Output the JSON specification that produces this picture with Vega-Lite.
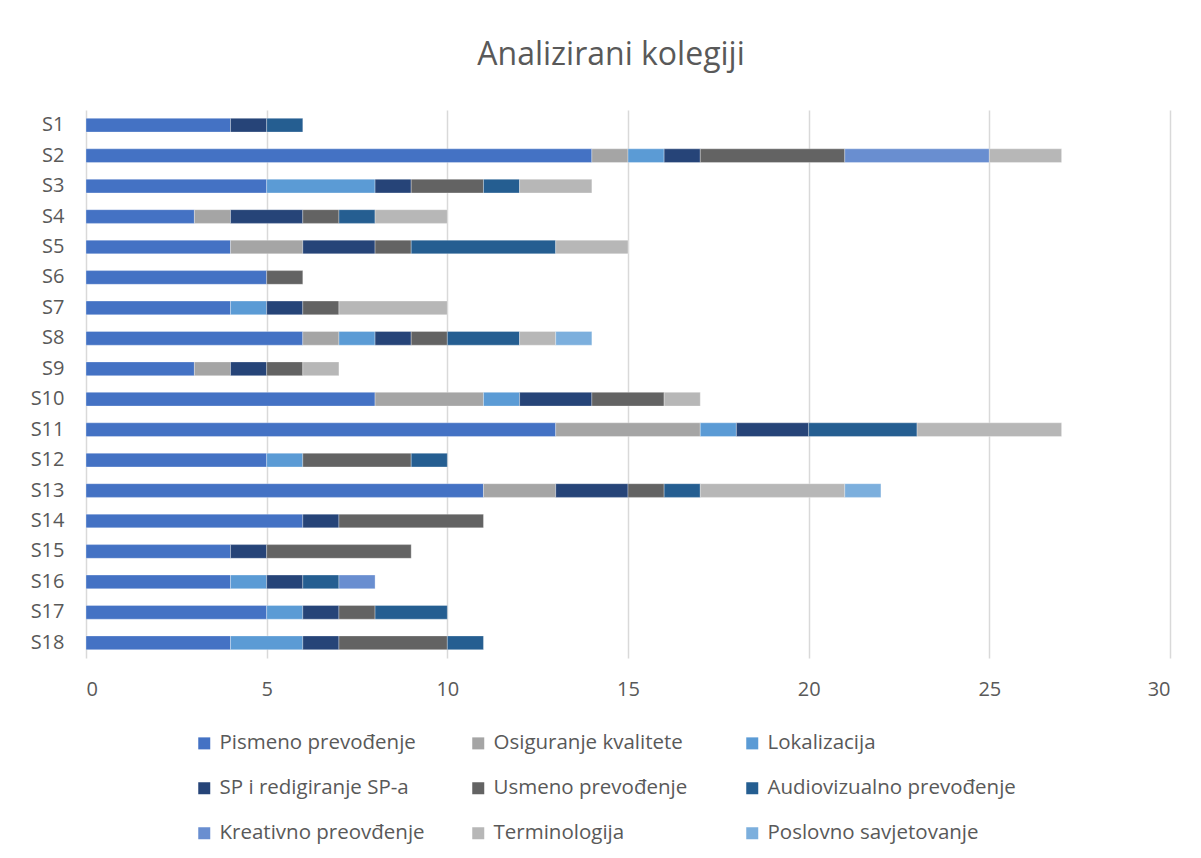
{
  "$schema": "https://vega.github.io/schema/vega-lite/v6.json",
  "autosize": "none",
  "width": 1084,
  "height": 548,
  "padding": {"left": 86, "top": 110, "right": 31, "bottom": 200},
  "background": "white",
  "title": {
    "text": "Analizirani kolegiji",
    "anchor": "middle",
    "frame": "group",
    "fontSize": 32,
    "font": "Open Sans",
    "fontWeight": "normal",
    "color": "#595959",
    "offset": 38,
    "dx": -17
  },
  "datasets": {
    "order": [
      {"cat": "Pismeno prevođenje", "o": 1},
      {"cat": "Osiguranje kvalitete", "o": 2},
      {"cat": "Lokalizacija", "o": 3},
      {"cat": "SP i redigiranje SP-a", "o": 4},
      {"cat": "Usmeno prevođenje", "o": 5},
      {"cat": "Audiovizualno prevođenje", "o": 6},
      {"cat": "Kreativno preovđenje", "o": 7},
      {"cat": "Terminologija", "o": 8},
      {"cat": "Poslovno savjetovanje", "o": 9}
    ]
  },
  "data": {
    "values": [
      {"k": "S1", "cat": "Pismeno prevođenje", "n": 4},
      {"k": "S1", "cat": "SP i redigiranje SP-a", "n": 1},
      {"k": "S1", "cat": "Audiovizualno prevođenje", "n": 1},
      {"k": "S2", "cat": "Pismeno prevođenje", "n": 14},
      {"k": "S2", "cat": "Osiguranje kvalitete", "n": 1},
      {"k": "S2", "cat": "Lokalizacija", "n": 1},
      {"k": "S2", "cat": "SP i redigiranje SP-a", "n": 1},
      {"k": "S2", "cat": "Usmeno prevođenje", "n": 4},
      {"k": "S2", "cat": "Kreativno preovđenje", "n": 4},
      {"k": "S2", "cat": "Terminologija", "n": 2},
      {"k": "S3", "cat": "Pismeno prevođenje", "n": 5},
      {"k": "S3", "cat": "Lokalizacija", "n": 3},
      {"k": "S3", "cat": "SP i redigiranje SP-a", "n": 1},
      {"k": "S3", "cat": "Usmeno prevođenje", "n": 2},
      {"k": "S3", "cat": "Audiovizualno prevođenje", "n": 1},
      {"k": "S3", "cat": "Terminologija", "n": 2},
      {"k": "S4", "cat": "Pismeno prevođenje", "n": 3},
      {"k": "S4", "cat": "Osiguranje kvalitete", "n": 1},
      {"k": "S4", "cat": "SP i redigiranje SP-a", "n": 2},
      {"k": "S4", "cat": "Usmeno prevođenje", "n": 1},
      {"k": "S4", "cat": "Audiovizualno prevođenje", "n": 1},
      {"k": "S4", "cat": "Terminologija", "n": 2},
      {"k": "S5", "cat": "Pismeno prevođenje", "n": 4},
      {"k": "S5", "cat": "Osiguranje kvalitete", "n": 2},
      {"k": "S5", "cat": "SP i redigiranje SP-a", "n": 2},
      {"k": "S5", "cat": "Usmeno prevođenje", "n": 1},
      {"k": "S5", "cat": "Audiovizualno prevođenje", "n": 4},
      {"k": "S5", "cat": "Terminologija", "n": 2},
      {"k": "S6", "cat": "Pismeno prevođenje", "n": 5},
      {"k": "S6", "cat": "Usmeno prevođenje", "n": 1},
      {"k": "S7", "cat": "Pismeno prevođenje", "n": 4},
      {"k": "S7", "cat": "Lokalizacija", "n": 1},
      {"k": "S7", "cat": "SP i redigiranje SP-a", "n": 1},
      {"k": "S7", "cat": "Usmeno prevođenje", "n": 1},
      {"k": "S7", "cat": "Terminologija", "n": 3},
      {"k": "S8", "cat": "Pismeno prevođenje", "n": 6},
      {"k": "S8", "cat": "Osiguranje kvalitete", "n": 1},
      {"k": "S8", "cat": "Lokalizacija", "n": 1},
      {"k": "S8", "cat": "SP i redigiranje SP-a", "n": 1},
      {"k": "S8", "cat": "Usmeno prevođenje", "n": 1},
      {"k": "S8", "cat": "Audiovizualno prevođenje", "n": 2},
      {"k": "S8", "cat": "Terminologija", "n": 1},
      {"k": "S8", "cat": "Poslovno savjetovanje", "n": 1},
      {"k": "S9", "cat": "Pismeno prevođenje", "n": 3},
      {"k": "S9", "cat": "Osiguranje kvalitete", "n": 1},
      {"k": "S9", "cat": "SP i redigiranje SP-a", "n": 1},
      {"k": "S9", "cat": "Usmeno prevođenje", "n": 1},
      {"k": "S9", "cat": "Terminologija", "n": 1},
      {"k": "S10", "cat": "Pismeno prevođenje", "n": 8},
      {"k": "S10", "cat": "Osiguranje kvalitete", "n": 3},
      {"k": "S10", "cat": "Lokalizacija", "n": 1},
      {"k": "S10", "cat": "SP i redigiranje SP-a", "n": 2},
      {"k": "S10", "cat": "Usmeno prevođenje", "n": 2},
      {"k": "S10", "cat": "Terminologija", "n": 1},
      {"k": "S11", "cat": "Pismeno prevođenje", "n": 13},
      {"k": "S11", "cat": "Osiguranje kvalitete", "n": 4},
      {"k": "S11", "cat": "Lokalizacija", "n": 1},
      {"k": "S11", "cat": "SP i redigiranje SP-a", "n": 2},
      {"k": "S11", "cat": "Audiovizualno prevođenje", "n": 3},
      {"k": "S11", "cat": "Terminologija", "n": 4},
      {"k": "S12", "cat": "Pismeno prevođenje", "n": 5},
      {"k": "S12", "cat": "Lokalizacija", "n": 1},
      {"k": "S12", "cat": "Usmeno prevođenje", "n": 3},
      {"k": "S12", "cat": "Audiovizualno prevođenje", "n": 1},
      {"k": "S13", "cat": "Pismeno prevođenje", "n": 11},
      {"k": "S13", "cat": "Osiguranje kvalitete", "n": 2},
      {"k": "S13", "cat": "SP i redigiranje SP-a", "n": 2},
      {"k": "S13", "cat": "Usmeno prevođenje", "n": 1},
      {"k": "S13", "cat": "Audiovizualno prevođenje", "n": 1},
      {"k": "S13", "cat": "Terminologija", "n": 4},
      {"k": "S13", "cat": "Poslovno savjetovanje", "n": 1},
      {"k": "S14", "cat": "Pismeno prevođenje", "n": 6},
      {"k": "S14", "cat": "SP i redigiranje SP-a", "n": 1},
      {"k": "S14", "cat": "Usmeno prevođenje", "n": 4},
      {"k": "S15", "cat": "Pismeno prevođenje", "n": 4},
      {"k": "S15", "cat": "SP i redigiranje SP-a", "n": 1},
      {"k": "S15", "cat": "Usmeno prevođenje", "n": 4},
      {"k": "S16", "cat": "Pismeno prevođenje", "n": 4},
      {"k": "S16", "cat": "Lokalizacija", "n": 1},
      {"k": "S16", "cat": "SP i redigiranje SP-a", "n": 1},
      {"k": "S16", "cat": "Audiovizualno prevođenje", "n": 1},
      {"k": "S16", "cat": "Kreativno preovđenje", "n": 1},
      {"k": "S17", "cat": "Pismeno prevođenje", "n": 5},
      {"k": "S17", "cat": "Lokalizacija", "n": 1},
      {"k": "S17", "cat": "SP i redigiranje SP-a", "n": 1},
      {"k": "S17", "cat": "Usmeno prevođenje", "n": 1},
      {"k": "S17", "cat": "Audiovizualno prevođenje", "n": 2},
      {"k": "S18", "cat": "Pismeno prevođenje", "n": 4},
      {"k": "S18", "cat": "Lokalizacija", "n": 2},
      {"k": "S18", "cat": "SP i redigiranje SP-a", "n": 1},
      {"k": "S18", "cat": "Usmeno prevođenje", "n": 3},
      {"k": "S18", "cat": "Audiovizualno prevođenje", "n": 1}
    ]
  },
  "transform": [
    {"lookup": "cat", "from": {"data": {"name": "order"}, "key": "cat", "fields": ["o"]}}
  ],
  "mark": {"type": "bar", "stroke": "white", "strokeWidth": 0.6, "strokeOpacity": 0.5},
  "encoding": {
    "y": {
      "field": "k",
      "type": "nominal",
      "sort": ["S1","S2","S3","S4","S5","S6","S7","S8","S9","S10","S11","S12","S13","S14","S15","S16","S17","S18"],
      "scale": {"paddingInner": 0.55, "paddingOuter": 0.275},
      "axis": {
        "title": null,
        "domain": false,
        "ticks": false,
        "labelFont": "Open Sans",
        "labelFontSize": 20,
        "labelColor": "#595959",
        "labelPadding": 22
      }
    },
    "x": {
      "field": "n",
      "type": "quantitative",
      "stack": "zero",
      "scale": {"domain": [0, 30], "nice": false},
      "axis": {
        "title": null,
        "values": [0, 5, 10, 15, 20, 25, 30],
        "domain": false,
        "ticks": false,
        "grid": true,
        "gridColor": "#D9D9D9",
        "gridWidth": 1.5,
        "labelFont": "Open Sans",
        "labelFontSize": 20,
        "labelColor": "#595959",
        "labelPadding": 21
      }
    },
    "order": {"field": "o", "type": "quantitative", "sort": "ascending"},
    "color": {
      "field": "cat",
      "type": "nominal",
      "sort": ["Pismeno prevođenje","Osiguranje kvalitete","Lokalizacija","SP i redigiranje SP-a","Usmeno prevođenje","Audiovizualno prevođenje","Kreativno preovđenje","Terminologija","Poslovno savjetovanje"],
      "scale": {
        "domain": ["Pismeno prevođenje","Osiguranje kvalitete","Lokalizacija","SP i redigiranje SP-a","Usmeno prevođenje","Audiovizualno prevođenje","Kreativno preovđenje","Terminologija","Poslovno savjetovanje"],
        "range": ["#4472C4","#A5A5A5","#5B9BD5","#264478","#636363","#255E91","#698ED0","#B7B7B7","#7CAFDD"]
      },
      "legend": {
        "title": null,
        "orient": "none",
        "legendX": 108,
        "legendY": 623,
        "direction": "horizontal",
        "columns": 3,
        "columnPadding": 0,
        "rowPadding": 24,
        "symbolType": "square",
        "symbolSize": 144,
        "symbolStrokeWidth": 0,
        "labelFont": "Open Sans",
        "labelFontSize": 20.5,
        "labelColor": "#595959",
        "labelOffset": 5,
        "labelLimit": 400,
        "gridAlign": "all"
      }
    }
  },
  "config": {"view": {"stroke": null}}
}
